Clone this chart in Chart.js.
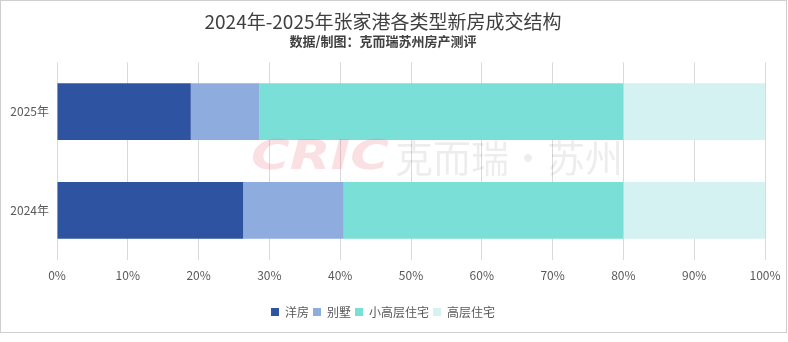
<!DOCTYPE html>
<html>
<head>
<meta charset="utf-8">
<script src="https://cdn.jsdelivr.net/npm/chart.js@4"></script>
<style>
  html, body { margin: 0; padding: 0; background: #fff; }
  #frame {
    position: absolute; left: 0; top: 0;
    width: 787px; height: 333px;
    box-sizing: border-box;
    border: 1px solid #cfcfcf;
    background: #fff;
  }
  #chart { display: block; }
</style>
</head>
<body>
<div id="frame"><canvas id="chart" width="785" height="331"></canvas></div>
<script>
const years = ['2025年', '2024年'];
const seriesNames = ['洋房', '别墅', '小高层住宅', '高层住宅'];
const yangfang = [18.9, 26.3];
const bieshu = [9.7, 14.2];
const xiaogaoceng = [51.4, 39.5];
const gaoceng = [20.0, 20.0];
const xTicks = [0, 10, 20, 30, 40, 50, 60, 70, 80, 90, 100];

const colors = ['#2E54A1', '#8FACDF', '#7ADFD6', '#D3F2F1'];
const textColor = '#595959';
const fontFamily = '"Noto Sans CJK SC", "Noto Sans", sans-serif';

// light watermark across the middle of the plot
const watermark = {
  id: 'watermark',
  afterDraw(chart) {
    const ctx = chart.ctx;
    ctx.save();
    ctx.textBaseline = 'middle';
    ctx.font = 'italic 900 40px "DejaVu Sans", sans-serif';
    ctx.fillStyle = 'rgba(230, 90, 100, 0.19)';
    const w = ctx.measureText('CRIC').width;
    ctx.translate(250, 158);
    ctx.scale(138 / w, 1);
    ctx.fillText('CRIC', 0, 0);
    ctx.restore();
    ctx.save();
    ctx.textBaseline = 'middle';
    ctx.font = '38px ' + fontFamily;
    ctx.fillStyle = 'rgba(0, 0, 0, 0.07)';
    ctx.fillText('克而瑞·苏州', 394, 157);
    ctx.restore();
  }
};

new Chart(document.getElementById('chart'), {
  type: 'bar',
  data: {
    labels: years,
    datasets: [
      { label: seriesNames[0], data: yangfang, backgroundColor: colors[0] },
      { label: seriesNames[1], data: bieshu, backgroundColor: colors[1] },
      { label: seriesNames[2], data: xiaogaoceng, backgroundColor: colors[2] },
      { label: seriesNames[3], data: gaoceng, backgroundColor: colors[3] }
    ]
  },
  options: {
    indexAxis: 'y',
    responsive: false,
    animation: false,
    layout: { padding: { left: 0, right: 21, top: 4, bottom: 4 } },
    datasets: { bar: { categoryPercentage: 1, barPercentage: 0.576, borderWidth: 0 } },
    scales: {
      x: {
        stacked: true,
        min: 0,
        max: 100,
        afterBuildTicks(scale) { scale.ticks = xTicks.map(v => ({ value: v })); },
        afterFit(scale) {
          scale.height += 10;
          scale.paddingLeft = 0;
          scale.paddingRight = 0;
        },
        ticks: {
          color: textColor,
          font: { family: fontFamily, size: 12 },
          padding: 9,
          maxRotation: 0,
          callback: v => v + '%'
        },
        grid: { color: '#d9d9d9', drawTicks: false },
        border: { display: false }
      },
      y: {
        stacked: true,
        afterFit(scale) { scale.width = 56; },
        ticks: {
          color: textColor,
          font: { family: fontFamily, size: 12 },
          padding: 8
        },
        grid: { display: false, drawTicks: false },
        border: { display: false }
      }
    },
    plugins: {
      title: {
        display: true,
        text: '2024年-2025年张家港各类型新房成交结构',
        color: '#404040',
        font: { family: fontFamily, size: 19, weight: 'normal' },
        padding: { top: 5, bottom: 0 }
      },
      subtitle: {
        display: true,
        text: '数据/制图：克而瑞苏州房产测评',
        color: '#404040',
        font: { family: fontFamily, size: 13, weight: 'bold' },
        padding: { top: 0, bottom: 14 }
      },
      legend: {
        position: 'bottom',
        labels: {
          color: textColor,
          font: { family: fontFamily, size: 12 },
          boxWidth: 8,
          boxHeight: 8,
          padding: 4
        }
      },
      tooltip: { enabled: false }
    }
  },
  plugins: [watermark]
});
</script>
</body>
</html>
